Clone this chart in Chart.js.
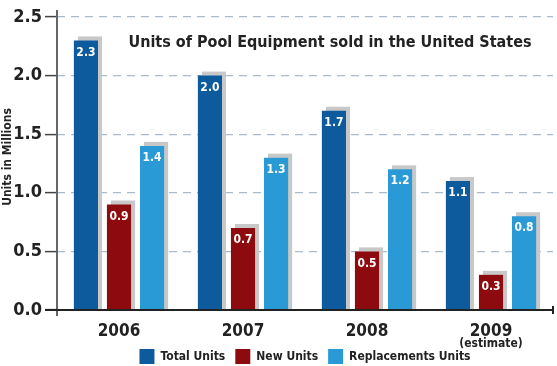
<!DOCTYPE html>
<html>
<head>
<meta charset="utf-8">
<script src="https://cdn.jsdelivr.net/npm/chart.js@4"></script>
<style>
  html, body { margin: 0; padding: 0; background: #fff; }
  #wrap { width: 557px; height: 366px; }
</style>
</head>
<body>
<div id="wrap"><canvas id="poolChart" width="557" height="366"></canvas></div>
<script>
// chart data
const years = ['2006', '2007', '2008', '2009'];
const totalUnits = [2.3, 2.0, 1.7, 1.1];
const newUnits = [0.9, 0.7, 0.5, 0.3];
const replacementUnits = [1.4, 1.3, 1.2, 0.8];
const yTicks = [0, 0.5, 1.0, 1.5, 2.0, 2.5];

const FONT = "'Liberation Sans Narrow', 'DejaVu Sans Condensed', 'Arial Narrow', sans-serif";

// grey drop shadow behind each bar, value labels on top
const barDecor = {
    id: 'barDecor',
    beforeDatasetsDraw(chart) {
        const ctx = chart.ctx;
        ctx.save();
        ctx.fillStyle = '#c8c8c8';
        chart.data.datasets.forEach((ds, i) => {
            chart.getDatasetMeta(i).data.forEach(bar => {
                const w = bar.width;
                ctx.fillRect(bar.x - w / 2 + 4, bar.y - 4, w, bar.base - bar.y + 4);
            });
        });
        ctx.restore();
    },
    afterDatasetsDraw(chart) {
        const ctx = chart.ctx;
        ctx.save();
        ctx.fillStyle = '#ffffff';
        ctx.font = 'bold 12px ' + FONT;
        ctx.textAlign = 'center';
        ctx.textBaseline = 'middle';
        chart.data.datasets.forEach((ds, i) => {
            chart.getDatasetMeta(i).data.forEach((bar, j) => {
                ctx.fillText(ds.data[j].toFixed(1), bar.x, bar.y + 12);
            });
        });
        ctx.restore();
    }
};

// title inside plot, y title, axis extensions, "(estimate)"
const extras = {
    id: 'extras',
    afterDraw(chart) {
        const ctx = chart.ctx;
        const area = chart.chartArea;
        const xs = chart.scales.x;
        ctx.save();

        ctx.fillStyle = '#222';
        ctx.font = 'bold 16px ' + FONT;
        ctx.textAlign = 'center';
        ctx.textBaseline = 'middle';
        ctx.fillText('Units of Pool Equipment sold in the United States', 330, 43);

        ctx.font = 'bold 12px ' + FONT;
        ctx.fillText('(estimate)', xs.getPixelForValue(3), 344);

        ctx.save();
        ctx.translate(8, 157);
        ctx.rotate(-Math.PI / 2);
        ctx.font = 'bold 12px ' + FONT;
        ctx.fillText('Units in Millions', 0, 0);
        ctx.restore();

        // axis lines
        ctx.strokeStyle = '#666';
        ctx.lineWidth = 2;
        ctx.beginPath();
        ctx.moveTo(area.left, area.top - 7);
        ctx.lineTo(area.left, area.bottom + 6);
        ctx.stroke();

        ctx.strokeStyle = '#222';
        ctx.beginPath();
        ctx.moveTo(area.left - 12, area.bottom);
        ctx.lineTo(area.right, area.bottom);
        ctx.moveTo(area.right, area.bottom - 4);
        ctx.lineTo(area.right, area.bottom + 4);
        ctx.stroke();
        ctx.restore();
    }
};

new Chart(document.getElementById('poolChart'), {
    type: 'bar',
    data: {
        labels: years,
        datasets: [
            { label: 'Total Units', data: totalUnits, backgroundColor: '#0d5b9c' },
            { label: 'New Units', data: newUnits, backgroundColor: '#8d0b0e' },
            { label: 'Replacements Units', data: replacementUnits, backgroundColor: '#2a9ad7' }
        ]
    },
    options: {
        responsive: false,
        animation: false,
        devicePixelRatio: 1,
        datasets: {
            bar: { categoryPercentage: 0.8, barPercentage: 0.73 }
        },
        layout: { padding: { top: 17, right: 4, left: 0, bottom: -8 } },
        scales: {
            x: {
                grid: { display: false },
                border: { display: false },
                ticks: {
                    color: '#222',
                    font: { family: FONT, size: 17, weight: 'bold' },
                    padding: 3
                },
                afterFit(s) { s.height = 29; }
            },
            y: {
                min: 0,
                max: 2.5,
                afterBuildTicks(s) { s.ticks = yTicks.map(v => ({ value: v })); },
                grid: {
                    color: '#aabccc',
                    tickColor: '#444',
                    tickLength: 12,
                    tickWidth: 1.5,
                    lineWidth: 1.2
                },
                border: { display: false, dash: [8, 6] },
                ticks: {
                    color: '#222',
                    padding: 3,
                    font: { family: FONT, size: 18, weight: 'bold' },
                    callback: v => Number(v).toFixed(1)
                },
                afterFit(s) { s.width = 57; }
            }
        },
        plugins: {
            legend: {
                position: 'bottom',
                fullSize: false,
                labels: {
                    boxWidth: 15,
                    boxHeight: 15,
                    padding: 10,
                    color: '#222',
                    font: { family: FONT, size: 12, weight: 'bold' }
                }
            },
            tooltip: { enabled: false },
            title: { display: false }
        }
    },
    plugins: [barDecor, extras]
});
</script>
</body>
</html>
